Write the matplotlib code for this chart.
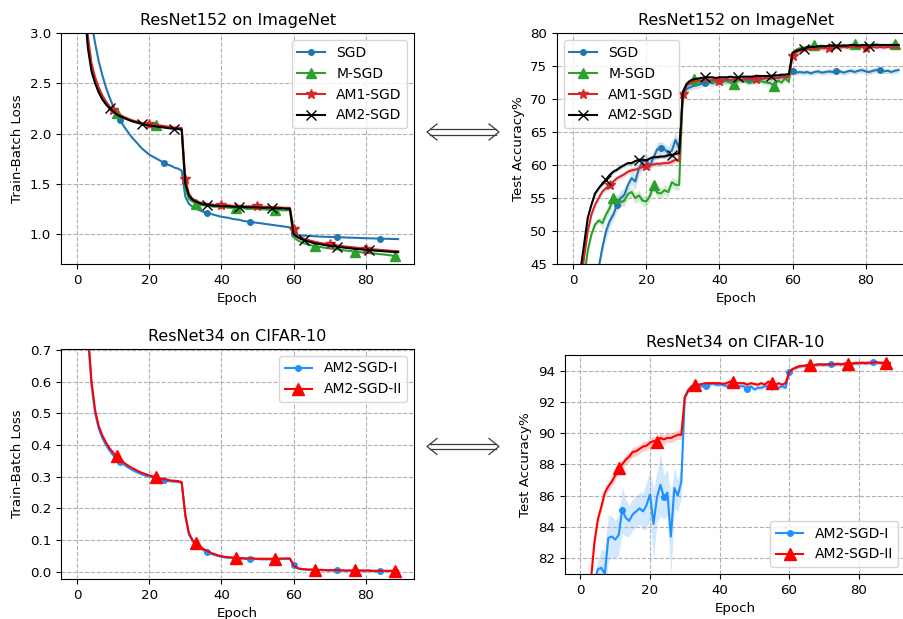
import numpy as np
import matplotlib
matplotlib.use("Agg")
import matplotlib.pyplot as plt
from matplotlib.lines import Line2D

plt.rcParams['font.size'] = 9.6
plt.rcParams['legend.fontsize'] = 10

epochs = np.arange(90)

# ---- ResNet152 / ImageNet : train-batch loss ----
sgd_loss = [6.5, 5.0, 4.1, 3.5, 3.1, 2.9, 2.72, 2.58, 2.46, 2.36,
            2.27, 2.19, 2.13, 2.07, 2.02, 1.97, 1.93, 1.89, 1.85, 1.82,
            1.79, 1.77, 1.75, 1.73, 1.71, 1.69, 1.68, 1.66, 1.65, 1.63,
            1.37, 1.30, 1.27, 1.25, 1.235, 1.22, 1.21, 1.20, 1.19, 1.18,
            1.17, 1.165, 1.16, 1.15, 1.145, 1.14, 1.13, 1.125, 1.12, 1.115,
            1.11, 1.105, 1.10, 1.095, 1.09, 1.085, 1.08, 1.075, 1.07, 1.065,
            1.0, 0.99, 0.985, 0.982, 0.98, 0.978, 0.976, 0.974, 0.972, 0.971,
            0.97, 0.969, 0.968, 0.966, 0.965, 0.963, 0.962, 0.961, 0.96, 0.958,
            0.957, 0.956, 0.955, 0.954, 0.953, 0.952, 0.951, 0.95, 0.949, 0.948]
msgd_loss = [6.0, 4.6, 3.4, 2.9, 2.65, 2.52, 2.42, 2.35, 2.3, 2.25,
             2.22, 2.2, 2.17, 2.155, 2.14, 2.125, 2.115, 2.105, 2.095, 2.09,
             2.085, 2.08, 2.085, 2.07, 2.065, 2.06, 2.055, 2.05, 2.045, 2.04,
             1.45, 1.35, 1.32, 1.30, 1.29, 1.285, 1.28, 1.275, 1.27, 1.27,
             1.265, 1.265, 1.26, 1.26, 1.26, 1.255, 1.255, 1.25, 1.25, 1.25,
             1.25, 1.245, 1.245, 1.24, 1.24, 1.24, 1.24, 1.235, 1.235, 1.235,
             0.97, 0.94, 0.92, 0.905, 0.895, 0.885, 0.878, 0.872, 0.866, 0.86,
             0.855, 0.85, 0.845, 0.84, 0.836, 0.832, 0.828, 0.822, 0.82, 0.816,
             0.812, 0.808, 0.805, 0.802, 0.798, 0.795, 0.79, 0.786, 0.778, 0.775]
am1_loss = [6.2, 4.8, 3.5, 2.97, 2.7, 2.56, 2.46, 2.38, 2.32, 2.27,
            2.235, 2.205, 2.185, 2.165, 2.15, 2.135, 2.125, 2.115, 2.105, 2.1,
            2.095, 2.09, 2.085, 2.08, 2.075, 2.07, 2.065, 2.06, 2.058, 2.055,
            1.55, 1.4, 1.35, 1.33, 1.315, 1.305, 1.3, 1.295, 1.29, 1.29,
            1.29, 1.285, 1.285, 1.28, 1.28, 1.28, 1.275, 1.275, 1.275, 1.275,
            1.275, 1.27, 1.27, 1.27, 1.265, 1.265, 1.265, 1.26, 1.26, 1.26,
            1.05, 0.99, 0.965, 0.95, 0.94, 0.93, 0.92, 0.913, 0.906, 0.9,
            0.895, 0.89, 0.885, 0.88, 0.876, 0.872, 0.868, 0.864, 0.86, 0.857,
            0.854, 0.85, 0.847, 0.844, 0.841, 0.838, 0.835, 0.832, 0.83, 0.828]
am2_loss = [6.0, 4.5, 3.3, 2.85, 2.62, 2.5, 2.41, 2.34, 2.29, 2.25,
            2.22, 2.19, 2.17, 2.155, 2.14, 2.125, 2.115, 2.105, 2.095, 2.085,
            2.08, 2.075, 2.07, 2.065, 2.06, 2.055, 2.05, 2.048, 2.045, 2.04,
            1.50, 1.38, 1.34, 1.32, 1.305, 1.295, 1.29, 1.285, 1.28, 1.28,
            1.275, 1.275, 1.275, 1.27, 1.27, 1.27, 1.27, 1.265, 1.265, 1.265,
            1.265, 1.26, 1.26, 1.26, 1.26, 1.255, 1.255, 1.255, 1.25, 1.25,
            1.0, 0.97, 0.95, 0.935, 0.925, 0.915, 0.905, 0.9, 0.893, 0.887,
            0.882, 0.877, 0.872, 0.867, 0.863, 0.859, 0.855, 0.851, 0.848, 0.845,
            0.842, 0.838, 0.835, 0.832, 0.83, 0.827, 0.824, 0.822, 0.82, 0.818]

# ---- ResNet152 / ImageNet : test accuracy ----
sgd_acc = [20, 25, 30, 34, 38, 41, 43, 44.5, 47.5, 50,
           51.5, 52.5, 54, 55, 55.5, 57, 58, 57.5, 59.5, 60.5,
           60.8, 59.8, 61.2, 62.4, 62.6, 62.4, 61.8, 62.2, 63.8, 62.5,
           70.5, 71.5, 71.8, 72.0, 72.1, 72.3, 72.5, 72.6, 72.4, 72.6,
           72.8, 72.6, 72.9, 72.8, 72.7, 73.0, 72.9, 73.1, 72.9, 73.0,
           73.2, 73.0, 73.1, 73.2, 73.1, 73.3, 73.2, 73.4, 73.3, 73.5,
           74.2, 74.0, 74.1, 74.0, 74.1, 73.9, 74.1, 74.2, 74.0, 74.1,
           74.2, 74.1, 74.3, 74.2, 74.0, 74.2, 74.3, 74.1, 74.3, 74.4,
           74.2, 74.1, 74.3, 74.4, 74.4, 74.2, 74.3, 74.1, 74.3, 74.4]
msgd_acc = [20, 28, 36, 43, 47, 49.5, 51, 51.6, 51.2, 52.5,
            53.5, 55.0, 54.8, 54.4, 54.6, 55.6, 55.9, 55.0, 55.4, 54.6,
            54.5, 55.3, 57.0, 55.8, 55.7, 56.2, 55.9, 57.4, 57.0, 57.0,
            71.0, 72.2, 72.6, 73.0, 72.8, 72.7, 72.9, 72.8, 72.6, 72.5,
            72.5, 72.8, 72.7, 72.5, 72.3, 72.8, 72.9, 72.7, 72.5, 72.6,
            72.7, 72.8, 72.6, 72.5, 72.4, 72.0, 72.8, 72.5, 73.2, 72.6,
            77.0, 77.5, 77.7, 77.8, 77.9, 78.0, 78.2, 78.0, 78.1, 78.0,
            78.1, 78.2, 78.1, 78.0, 78.2, 78.1, 78.2, 78.3, 78.2, 78.1,
            78.2, 78.1, 78.2, 78.3, 78.1, 78.2, 78.1, 78.2, 78.3, 78.2]
am1_acc = [25, 35, 42, 46, 50, 52.5, 54.0, 55.0, 56.0, 56.5,
           57.0, 57.5, 58.0, 58.3, 58.6, 59.0, 59.2, 59.3, 59.5, 59.7,
           59.8, 60.0, 60.1, 60.2, 60.2, 60.3, 60.3, 60.5, 60.8, 60.6,
           70.8, 72.0, 72.5, 72.7, 72.8, 72.8, 72.9, 72.8, 72.9, 72.9,
           72.8, 72.9, 73.0, 72.9, 73.0, 73.0, 72.9, 73.0, 73.1, 73.0,
           73.0, 73.1, 73.1, 73.2, 73.1, 73.2, 73.2, 73.3, 73.3, 73.4,
           76.6, 77.1, 77.3, 77.4, 77.5, 77.6, 77.6, 77.7, 77.7, 77.7,
           77.8, 77.8, 77.8, 77.8, 77.9, 77.8, 77.9, 77.9, 77.8, 77.9,
           77.8, 77.9, 77.9, 77.8, 77.9, 77.8, 77.9, 77.8, 77.8, 77.8]
am2_acc = [28, 37, 44, 48, 52, 54, 55.7, 56.5, 57.2, 57.8,
           58.5, 59.0, 59.3, 59.7, 60.0, 60.3, 60.3, 60.6, 60.8, 60.8,
           60.7, 61.0, 61.2, 61.2, 61.3, 61.3, 61.5, 61.5, 61.7, 61.8,
           71.0, 72.3, 72.8, 73.0, 73.1, 73.2, 73.3, 73.3, 73.3, 73.2,
           73.3, 73.3, 73.3, 73.4, 73.3, 73.3, 73.4, 73.4, 73.4, 73.4,
           73.5, 73.5, 73.5, 73.5, 73.5, 73.6, 73.6, 73.7, 73.7, 73.8,
           77.0, 77.3, 77.5, 77.6, 77.8, 77.9, 77.9, 78.0, 78.0, 78.0,
           78.1, 78.1, 78.1, 78.1, 78.1, 78.1, 78.2, 78.2, 78.1, 78.2,
           78.2, 78.1, 78.2, 78.2, 78.2, 78.2, 78.2, 78.2, 78.2, 78.2]
sgd_acc_std = [0.3] * 8 + [1.0, 1.2, 1.0, 0.8, 1.0, 1.2, 1.0, 0.8, 1.0, 1.2,
                           1.0, 1.2, 1.0, 0.8, 0.8, 1.0, 1.0, 0.8, 1.0, 1.5, 1.2, 1.0] + [0.5] * 30 + [0.4] * 30
msgd_acc_std = [0.4] * 8 + [0.8] * 22 + [0.4] * 30 + [0.3] * 30
am1_acc_std = [0.4] * 30 + [0.25] * 60
am2_acc_std = [0.3] * 30 + [0.2] * 60

# ---- ResNet34 / CIFAR-10 ----
cifar_loss_1 = [1.95, 1.28, 0.93, 0.74, 0.59, 0.5, 0.452, 0.422, 0.4, 0.382,
                0.367, 0.355, 0.346, 0.338, 0.33, 0.323, 0.317, 0.312, 0.307, 0.303,
                0.3, 0.297, 0.294, 0.291, 0.289, 0.287, 0.285, 0.284, 0.283, 0.28,
                0.175, 0.118, 0.096, 0.085, 0.076, 0.068, 0.062, 0.057, 0.053, 0.05,
                0.047, 0.045, 0.044, 0.043, 0.042, 0.041, 0.041, 0.04, 0.04, 0.04,
                0.04, 0.039, 0.039, 0.039, 0.039, 0.039, 0.04, 0.04, 0.04, 0.04,
                0.022, 0.011, 0.008, 0.007, 0.006, 0.006, 0.005, 0.005, 0.005, 0.004,
                0.004, 0.004, 0.004, 0.004, 0.003, 0.003, 0.003, 0.003, 0.003, 0.003,
                0.003, 0.003, 0.002, 0.002, 0.002, 0.002, 0.002, 0.002, 0.002, 0.002]
cifar_loss_2 = [2.0, 1.3, 0.95, 0.76, 0.6, 0.51, 0.46, 0.43, 0.408, 0.39,
                0.376, 0.364, 0.353, 0.344, 0.336, 0.329, 0.323, 0.317, 0.312, 0.308,
                0.304, 0.301, 0.298, 0.295, 0.292, 0.29, 0.288, 0.287, 0.286, 0.283,
                0.18, 0.122, 0.1, 0.09, 0.08, 0.072, 0.066, 0.06, 0.056, 0.052,
                0.049, 0.047, 0.046, 0.045, 0.044, 0.043, 0.043, 0.042, 0.042, 0.042,
                0.041, 0.041, 0.041, 0.041, 0.041, 0.041, 0.041, 0.042, 0.042, 0.042,
                0.02, 0.012, 0.009, 0.008, 0.007, 0.007, 0.006, 0.006, 0.006, 0.005,
                0.005, 0.005, 0.005, 0.005, 0.004, 0.004, 0.004, 0.004, 0.004, 0.004,
                0.004, 0.004, 0.003, 0.003, 0.003, 0.003, 0.003, 0.003, 0.003, 0.003]
cifar_acc_1 = [70, 74, 77, 79, 80.5, 81.3, 81.4, 81.0, 83.3, 83.4,
               83.2, 83.5, 85.1, 84.6, 84.4, 84.8, 85.0, 85.2, 85.0, 85.4,
               86.1, 84.2, 85.9, 86.7, 85.9, 86.2, 83.4, 86.5, 86.0, 86.9,
               92.3, 92.8, 93.0, 93.0, 93.0, 93.0, 93.0, 93.1, 93.2, 93.1,
               93.1, 93.1, 93.0, 93.1, 93.1, 93.0, 93.0, 93.0, 92.8, 93.0,
               92.8, 92.9, 92.9, 93.0, 93.0, 92.8, 93.0, 92.9, 93.0, 92.9,
               93.9, 94.1, 94.2, 94.25, 94.3, 94.3, 94.3, 94.35, 94.35, 94.4,
               94.35, 94.4, 94.45, 94.4, 94.4, 94.4, 94.45, 94.4, 94.45, 94.45,
               94.45, 94.5, 94.45, 94.5, 94.55, 94.5, 94.5, 94.5, 94.45, 94.45]
cifar_acc_2 = [72, 76, 79, 80.6, 83.0, 84.5, 85.3, 86.2, 86.6, 86.9,
               87.3, 87.8, 88.0, 88.3, 88.5, 88.8, 88.85, 89.0, 89.15, 89.2,
               89.4, 89.5, 89.45, 89.7, 89.6, 89.7, 89.7, 89.8, 89.9, 89.9,
               92.3, 92.7, 93.0, 93.1, 93.1, 93.15, 93.2, 93.2, 93.2, 93.2,
               93.2, 93.15, 93.2, 93.3, 93.3, 93.2, 93.2, 93.2, 93.1, 93.2,
               93.15, 93.1, 93.2, 93.1, 93.3, 93.2, 93.1, 93.2, 93.1, 93.2,
               93.9, 94.1, 94.2, 94.3, 94.3, 94.35, 94.35, 94.35, 94.4, 94.4,
               94.4, 94.4, 94.4, 94.4, 94.45, 94.4, 94.45, 94.45, 94.45, 94.5,
               94.5, 94.5, 94.5, 94.5, 94.5, 94.55, 94.5, 94.5, 94.5, 94.5]
cifar_acc_1_std = [0.3] * 5 + [0.5, 1.2, 1.5, 1.5, 1.3, 1.2, 1.3, 1.5, 1.2, 1.0,
                               1.0, 1.0, 1.0, 1.2, 1.5, 1.6, 2.2, 1.6, 2.0, 1.4,
                               1.5, 2.5, 1.3, 1.0, 1.0] + [0.15] * 30 + [0.1] * 30
cifar_acc_2_std = [0.3] * 30 + [0.12] * 60


def style(ax, title, ylabel):
    ax.set_title(title, fontsize=11.5)
    ax.set_xlabel('Epoch')
    ax.set_ylabel(ylabel)
    ax.grid(True, linestyle='--', color='#b0b0b0', linewidth=0.8)
    ax.set_xticks([0, 20, 40, 60, 80])


def double_arrow(fig, cy):
    # long double-stroke arrow between two panels, given in pixels
    W, H = 904.0, 619.0
    fx = lambda px: px / W
    fy = lambda py: 1 - py / H
    kw = dict(transform=fig.transFigure, color='#3a3a3a', linewidth=0.9)
    for dy in (-2.6, 2.6):
        fig.add_artist(Line2D([fx(430), fx(496)], [fy(cy + dy), fy(cy + dy)], **kw))
    fig.add_artist(Line2D([fx(437), fx(427), fx(437)], [fy(cy - 8), fy(cy), fy(cy + 8)], **kw))
    fig.add_artist(Line2D([fx(489), fx(499), fx(489)], [fy(cy - 8), fy(cy), fy(cy + 8)], **kw))


fig = plt.figure(figsize=(9.04, 6.19), dpi=100)

# top-left
ax1 = fig.add_axes([0.0675, 0.5735, 0.3907, 0.373])
ax1.plot(epochs, sgd_loss, color='#1f77b4', marker='o', markersize=4, markevery=12, label='SGD')
ax1.plot(epochs, msgd_loss, color='#2ca02c', marker='^', markersize=7.5, markevery=11, label='M-SGD')
ax1.plot(epochs, am1_loss, color='#d62728', marker='*', markersize=7, markevery=10, label='AM1-SGD')
ax1.plot(epochs, am2_loss, color='k', marker='x', markersize=7, markevery=9, label='AM2-SGD')
ax1.set_ylim(0.7, 3.0)
style(ax1, 'ResNet152 on ImageNet', 'Train-Batch Loss')
ax1.legend(loc='upper right')

# top-right
ax2 = fig.add_axes([0.616, 0.5735, 0.396, 0.373])
series = [(sgd_acc, sgd_acc_std, '#1f77b4', 'o', 4, 12, 'SGD'),
          (msgd_acc, msgd_acc_std, '#2ca02c', '^', 7.5, 11, 'M-SGD'),
          (am1_acc, am1_acc_std, '#d62728', '*', 7, 10, 'AM1-SGD'),
          (am2_acc, am2_acc_std, 'k', 'x', 7, 9, 'AM2-SGD')]
for vals, std, c, m, ms, me, lab in series:
    vals = np.array(vals)
    std = np.array(std)
    ax2.fill_between(epochs, vals - std, vals + std, color=c, alpha=0.2, linewidth=0)
    ax2.plot(epochs, vals, color=c, marker=m, markersize=ms, markevery=me, label=lab)
ax2.set_ylim(45, 80)
style(ax2, 'ResNet152 on ImageNet', 'Test Accuracy%')
ax2.legend(loc='upper left')

# bottom-left
ax3 = fig.add_axes([0.0675, 0.0646, 0.3907, 0.3716])
ax3.plot(epochs, cifar_loss_1, color='#1e90ff', marker='o', markersize=4, markevery=12, label='AM2-SGD-I')
ax3.plot(epochs, cifar_loss_2, color='red', marker='^', markersize=9, markevery=11, label='AM2-SGD-II')
ax3.set_ylim(-0.023, 0.703)
style(ax3, 'ResNet34 on CIFAR-10', 'Train-Batch Loss')
ax3.legend(loc='upper right')

# bottom-right
ax4 = fig.add_axes([0.625, 0.0727, 0.3765, 0.3538])
for vals, std, c, m, ms, me, lab in [(cifar_acc_1, cifar_acc_1_std, '#1e90ff', 'o', 4, 12, 'AM2-SGD-I'),
                                     (cifar_acc_2, cifar_acc_2_std, 'red', '^', 9, 11, 'AM2-SGD-II')]:
    vals = np.array(vals)
    std = np.array(std)
    ax4.fill_between(epochs, vals - std, vals + std, color=c, alpha=0.2, linewidth=0)
    ax4.plot(epochs, vals, color=c, marker=m, markersize=ms, markevery=me, label=lab)
ax4.set_ylim(81, 95)
ax4.set_yticks([82, 84, 86, 88, 90, 92, 94])
style(ax4, 'ResNet34 on CIFAR-10', 'Test Accuracy%')
ax4.legend(loc='lower right')

double_arrow(fig, 132)
double_arrow(fig, 446.5)

fig.savefig('out.png', dpi=100)
